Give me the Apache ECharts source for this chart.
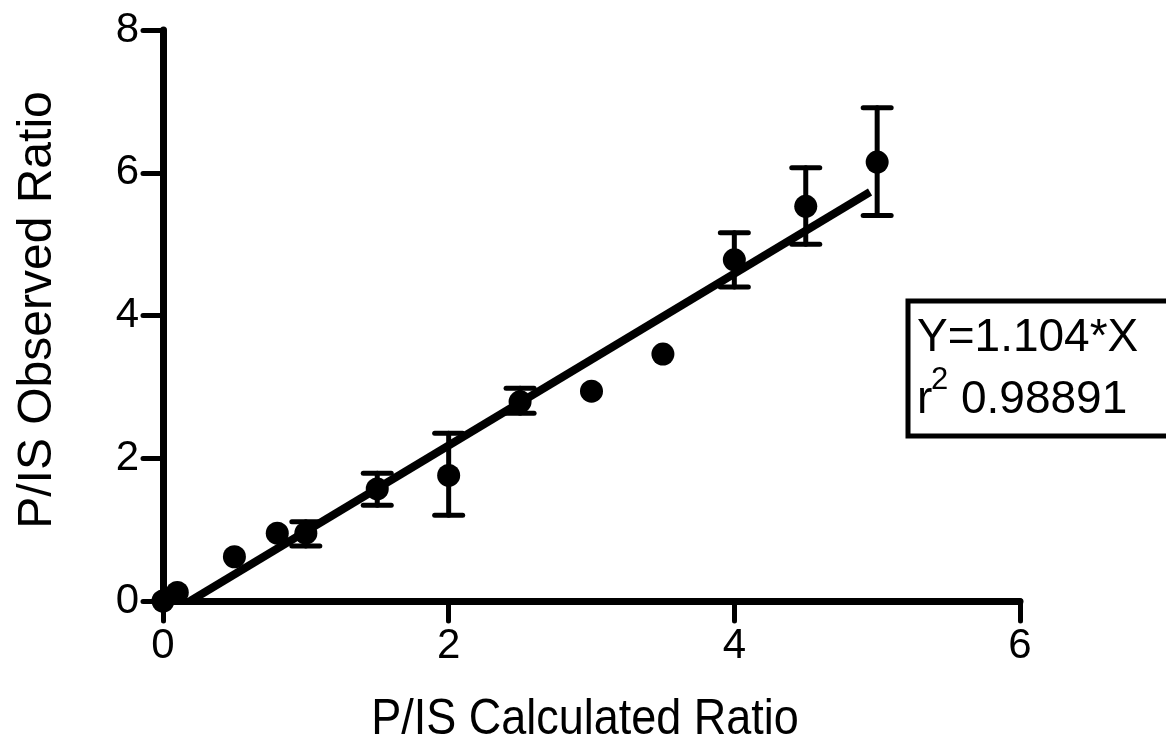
<!DOCTYPE html>
<html>
<head>
<meta charset="utf-8">
<title>P/IS Observed vs Calculated Ratio</title>
<script src="https://cdn.jsdelivr.net/npm/echarts@6/dist/echarts.min.js"></script>
<style>
  html, body { margin: 0; padding: 0; background: #ffffff; }
  #chart { width: 1166px; height: 745px; }
</style>
</head>
<body>
<div id="chart"></div>
<script>
// Calibration points: calculated ratio (x) vs observed ratio (y)
const calcRatio = [0, 0.1, 0.5, 0.8, 1.0, 1.5, 2.0, 2.5, 3.0, 3.5, 4.0, 4.5, 5.0];
const obsRatio  = [0, 0.12, 0.62, 0.95, 0.95, 1.57, 1.76, 2.79, 2.94, 3.46, 4.78, 5.53, 6.15];

// Error bars (low / high) for the replicated levels
const errX    = [1.0, 1.5, 2.0, 2.5, 4.0, 4.5, 5.0];
const errLow  = [0.77, 1.34, 1.20, 2.63, 4.40, 5.00, 5.40];
const errHigh = [1.11, 1.79, 2.35, 2.98, 5.16, 6.07, 6.91];

// Regression line end points
const fitX = [0.19, 4.95];
const fitY = [0, 5.73];

// Axis ticks
const xTicks = [0, 2, 4, 6];
const yTicks = [0, 2, 4, 6, 8];

const fitEquation = 'Y=1.104*X';
const rSquared = '0.98891';

const FONT = '"Liberation Sans", Arial, Helvetica, sans-serif';

const chart = echarts.init(document.getElementById('chart'), null, { renderer: 'canvas' });

const points = calcRatio.map((x, i) => [x, obsRatio[i]]);
const bars = errX.map((x, i) => [x, errLow[i], errHigh[i]]);
const fitLine = fitX.map((x, i) => [x, fitY[i]]);

function axisCommon(ticks) {
  return {
    type: 'value',
    min: ticks[0],
    max: ticks[ticks.length - 1],
    interval: ticks[1] - ticks[0],
    splitLine: { show: false },
    axisLine: { show: true, onZero: false, lineStyle: { color: '#000', width: 7, cap: 'round' } },
    axisTick: { show: true, inside: false, length: 20, lineStyle: { color: '#000', width: 5, cap: 'round' } },
    axisLabel: { color: '#000', fontSize: 42, fontFamily: FONT, margin: 24 }
  };
}

const option = {
  backgroundColor: '#ffffff',
  animation: false,
  grid: { left: 163, right: 146, top: 30, bottom: 144, containLabel: false },
  xAxis: axisCommon(xTicks),
  yAxis: axisCommon(yTicks),
  series: [
    {
      name: 'fit',
      type: 'line',
      data: fitLine,
      symbol: 'none',
      clip: false,
      lineStyle: { color: '#000', width: 8 },
      z: 3
    },
    {
      name: 'error',
      type: 'custom',
      data: bars,
      clip: false,
      renderItem: function (params, api) {
        const x = api.value(0);
        const lo = api.coord([x, api.value(1)]);
        const hi = api.coord([x, api.value(2)]);
        const half = 14;
        const style = { stroke: '#000', lineWidth: 5, lineCap: 'round' };
        return {
          type: 'group',
          children: [
            { type: 'line', shape: { x1: lo[0], y1: lo[1], x2: hi[0], y2: hi[1] }, style: style },
            { type: 'line', shape: { x1: hi[0] - half, y1: hi[1], x2: hi[0] + half, y2: hi[1] }, style: style },
            { type: 'line', shape: { x1: lo[0] - half, y1: lo[1], x2: lo[0] + half, y2: lo[1] }, style: style }
          ]
        };
      },
      z: 4
    },
    {
      name: 'observed',
      type: 'scatter',
      data: points,
      symbol: 'circle',
      symbolSize: 23,
      clip: false,
      itemStyle: { color: '#000', opacity: 1 },
      emphasis: { disabled: true },
      z: 5
    }
  ],
  graphic: [
    {
      type: 'text',
      x: 585, y: 720,
      scaleY: 1.1,
      style: { text: 'P/IS Calculated Ratio', font: '45px ' + FONT, fill: '#000', align: 'center', verticalAlign: 'middle' }
    },
    {
      type: 'text',
      x: 38, y: 310,
      rotation: Math.PI / 2,
      style: { text: 'P/IS Observed Ratio', font: '48px ' + FONT, fill: '#000', align: 'center', verticalAlign: 'middle' }
    },
    {
      type: 'rect',
      shape: { x: 908, y: 301, width: 400, height: 135 },
      style: { fill: '#fff', stroke: '#000', lineWidth: 5 },
      z: 10
    },
    {
      type: 'text',
      x: 917, y: 338,
      style: { text: fitEquation, font: '46px ' + FONT, fill: '#000', align: 'left', verticalAlign: 'middle' },
      z: 11
    },
    {
      type: 'text',
      x: 917, y: 400,
      style: { text: 'r', font: '46px ' + FONT, fill: '#000', align: 'left', verticalAlign: 'middle' },
      z: 11
    },
    {
      type: 'text',
      x: 931, y: 380,
      style: { text: '2', font: '31px ' + FONT, fill: '#000', align: 'left', verticalAlign: 'middle' },
      z: 11
    },
    {
      type: 'text',
      x: 961, y: 400,
      style: { text: rSquared, font: '46px ' + FONT, fill: '#000', align: 'left', verticalAlign: 'middle' },
      z: 11
    }
  ]
};

chart.setOption(option);
</script>
</body>
</html>
